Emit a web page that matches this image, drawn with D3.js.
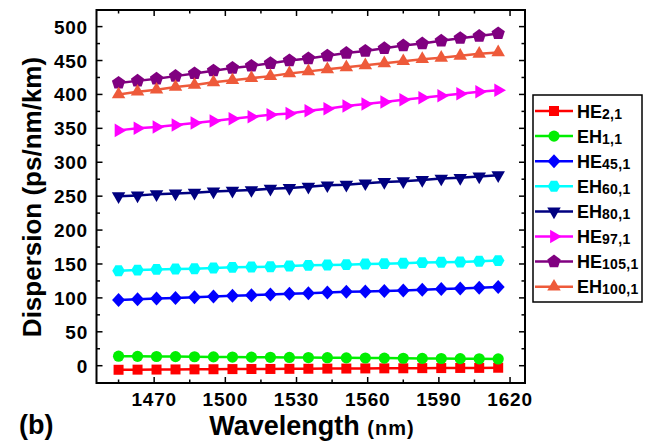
<!DOCTYPE html>
<meta charset="utf-8">
<style>
body { margin: 0; background: #fff; }
svg text { font-family: "Liberation Sans", Arial, sans-serif; font-weight: bold; fill: #000; }
.tick-label { font-size: 19px; letter-spacing: 0.8px; }
</style>
<body>
<svg id="chart" width="651" height="444"></svg>
<script src="https://cdn.jsdelivr.net/npm/d3@7"></script>
<script>

// wavelength samples (nm)
var wavelength = [1455, 1463, 1471, 1479, 1487, 1495, 1503, 1511, 1519, 1527, 1535,
                  1543, 1551, 1559, 1567, 1575, 1583, 1591, 1599, 1607, 1615];

var he21   = [-6, -5.8, -5.7, -5.5, -5.4, -5.2, -5, -4.9, -4.8, -4.6, -4.5, -4.3, -4.2, -4, -3.9, -3.8, -3.6, -3.5, -3.3, -3.2, -3];
var eh11   = [14, 13.8, 13.6, 13.4, 13.2, 13, 12.8, 12.6, 12.4, 12.2, 12, 11.8, 11.6, 11.4, 11.2, 11, 10.8, 10.6, 10.4, 10.2, 10];
var he451  = [97, 98, 99, 100, 101, 102, 103, 104, 105, 106, 107, 108, 109, 109.5, 110, 111, 112, 113, 114, 115, 116];
var eh601  = [140, 141, 142, 142.5, 143, 144, 145, 145.5, 146, 147, 148, 148.5, 149, 150, 150.5, 151, 152, 152.5, 153, 154, 155];
var eh801  = [250, 251, 253, 254, 255, 257, 258, 259, 261, 262, 264, 266, 267, 269, 271, 272, 274, 276, 277, 279, 281];
var he971  = [347, 350, 352, 355, 358, 361, 364, 367, 370, 372, 376, 379, 383, 386, 389, 392, 395, 398, 401, 404, 406];
var he1051 = [417, 420, 423, 427, 431, 435, 439, 442, 446, 450, 453, 457, 461, 464, 468, 472, 475, 479, 483, 486, 490];
var eh1001 = [400, 404, 407, 411, 414, 418, 421, 424, 427, 431, 434, 437, 440, 443, 446, 449, 452, 454, 457, 460, 462];

var seriesNames = [["HE", "2,1"], ["EH", "1,1"], ["HE", "45,1"], ["EH", "60,1"],
                   ["EH", "80,1"], ["HE", "97,1"], ["HE", "105,1"], ["EH", "100,1"]];
var seriesValues = [he21, eh11, he451, eh601, eh801, he971, he1051, eh1001];
var seriesColors = ["#ff0000", "#00ee00", "#0000ff", "#00ffff", "#000080", "#ff00ff", "#800080", "#ee5a3a"];
var seriesShapes = ["square", "circle", "diamond", "hexagon", "tridown", "triright", "pentagon", "triup"];

var xTicks = [1470, 1500, 1530, 1560, 1590, 1620];
var yTicks = [0, 50, 100, 150, 200, 250, 300, 350, 400, 450, 500];

var svg = d3.select("#chart");
var pLeft = 96.5, pRight = 525, pTop = 10, pBottom = 383;

var x = d3.scaleLinear().domain([1445.7, 1626.3]).range([pLeft, pRight]);
var y = d3.scaleLinear().domain([-25.5, 524.5]).range([pBottom, pTop]);

// regular polygon path centred on 0,0
function poly(n, r, rot) {
  var p = [];
  for (var i = 0; i < n; i++) {
    var a = rot + i * 2 * Math.PI / n;
    p.push([r * Math.cos(a), r * Math.sin(a)]);
  }
  return "M" + p.join("L") + "Z";
}

function shapePath(s) {
  switch (s) {
    case "square": return "M-5,-5H5V5H-5Z";
    case "circle": return d3.symbol(d3.symbolCircle, Math.PI * 5.6 * 5.6)();
    case "diamond": return "M0,-7L6.5,0L0,7L-6.5,0Z";
    case "hexagon": return poly(6, 6.3, 0);
    case "tridown": return poly(3, 7.8, Math.PI / 2);
    case "triright": return poly(3, 7.8, 0);
    case "pentagon": return poly(5, 7, -Math.PI / 2);
    case "triup": return poly(3, 7.8, -Math.PI / 2);
  }
}

// ticks, all inside, on all four sides
var tg = svg.append("g").attr("stroke", "#000").attr("stroke-width", 1.5);
d3.range(1455, 1626, 15).forEach(function(v) {
  var len = xTicks.indexOf(v) >= 0 ? 6 : 3.5;
  tg.append("line").attr("x1", x(v)).attr("x2", x(v)).attr("y1", pBottom).attr("y2", pBottom - len);
  tg.append("line").attr("x1", x(v)).attr("x2", x(v)).attr("y1", pTop).attr("y2", pTop + len);
});
d3.range(0, 525, 25).forEach(function(v) {
  var len = yTicks.indexOf(v) >= 0 ? 6 : 3.5;
  tg.append("line").attr("y1", y(v)).attr("y2", y(v)).attr("x1", pLeft).attr("x2", pLeft + len);
  tg.append("line").attr("y1", y(v)).attr("y2", y(v)).attr("x1", pRight).attr("x2", pRight - len);
});

svg.append("rect")
  .attr("x", pLeft).attr("y", pTop)
  .attr("width", pRight - pLeft).attr("height", pBottom - pTop)
  .attr("fill", "none").attr("stroke", "#000").attr("stroke-width", 2);

svg.append("g").selectAll("text").data(yTicks).enter().append("text")
  .attr("class", "tick-label")
  .attr("x", 88).attr("y", function(d) { return y(d) + 7; })
  .attr("text-anchor", "end")
  .text(function(d) { return d; });

svg.append("g").selectAll("text").data(xTicks).enter().append("text")
  .attr("class", "tick-label")
  .attr("x", function(d) { return x(d); }).attr("y", 406)
  .attr("text-anchor", "middle")
  .text(function(d) { return d; });

// series
var line = d3.line()
  .x(function(d, i) { return x(wavelength[i]); })
  .y(function(d) { return y(d); });

seriesValues.forEach(function(vals, k) {
  var g = svg.append("g");
  g.append("path").datum(vals)
    .attr("d", line)
    .attr("fill", "none")
    .attr("stroke", seriesColors[k])
    .attr("stroke-width", 2.5);
  g.selectAll("path.mk").data(vals).enter().append("path")
    .attr("class", "mk")
    .attr("d", shapePath(seriesShapes[k]))
    .attr("transform", function(d, i) { return "translate(" + x(wavelength[i]) + "," + y(d) + ")"; })
    .attr("fill", seriesColors[k]);
});

// axis titles
svg.append("text")
  .attr("transform", "translate(41,197) rotate(-90)")
  .attr("text-anchor", "middle")
  .style("font-size", "26px")
  .text("Dispersion (ps/nm/km)");

var xt = svg.append("text")
  .attr("x", 312).attr("y", 435)
  .attr("text-anchor", "middle");
xt.append("tspan").style("font-size", "27px").text("Wavelength ");
xt.append("tspan").style("font-size", "20px").style("letter-spacing", "1px").text("(nm)");

svg.append("text")
  .attr("x", 19).attr("y", 434)
  .style("font-size", "27px")
  .text("(b)");

// legend
var lg = svg.append("g");
lg.append("rect")
  .attr("x", 533).attr("y", 95).attr("width", 109).attr("height", 207)
  .attr("fill", "#fff").attr("stroke", "#000").attr("stroke-width", 1.5);

seriesNames.forEach(function(nm, k) {
  var cy = 111 + k * 25.1;
  lg.append("line")
    .attr("x1", 535).attr("x2", 573).attr("y1", cy).attr("y2", cy)
    .attr("stroke", seriesColors[k]).attr("stroke-width", 2.5);
  lg.append("path")
    .attr("d", shapePath(seriesShapes[k]))
    .attr("transform", "translate(554," + cy + ")")
    .attr("fill", seriesColors[k]);
  var t = lg.append("text").attr("x", 577).attr("y", cy + 6.5);
  t.append("tspan").style("font-size", "18px").text(nm[0]);
  t.append("tspan").style("font-size", "14px").attr("dy", 1).style("letter-spacing", "0.3px").text(nm[1]);
});

</script>
</body>
